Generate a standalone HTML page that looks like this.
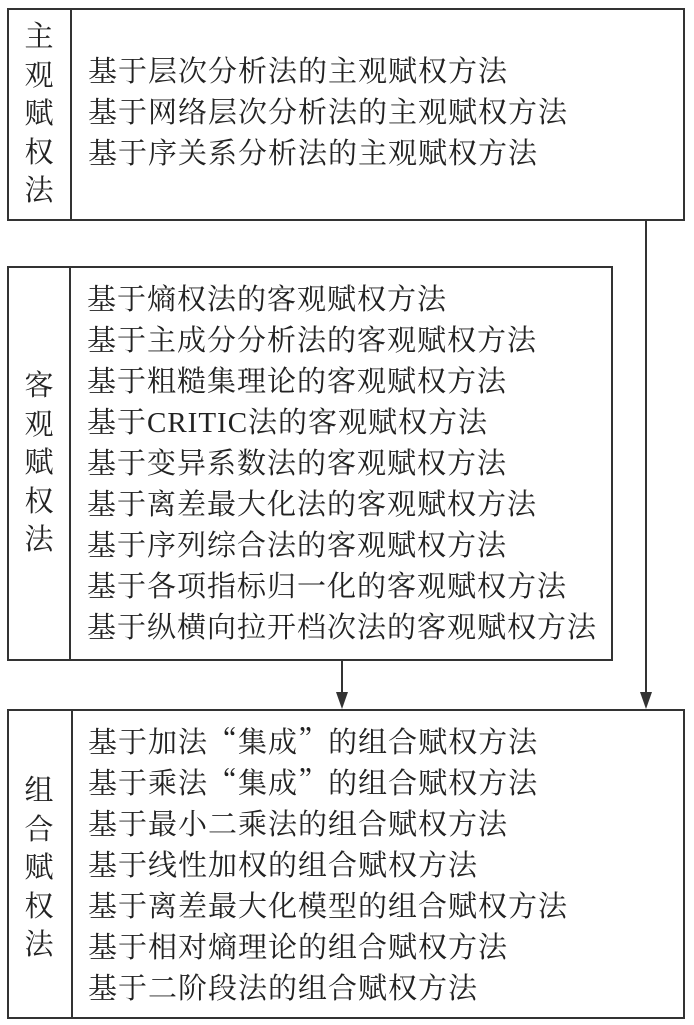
<!DOCTYPE html>
<html><head><meta charset="utf-8"><style>
body{margin:0;width:694px;height:1025px;background:#fff;position:relative;overflow:hidden;font-family:"Liberation Serif","Noto Serif CJK SC",serif;color:#222}
.b{position:absolute;border:2px solid #333;box-sizing:border-box}
.d{position:absolute;width:2px;background:#333}
.t{position:absolute;font-size:29px;line-height:41px;white-space:nowrap;letter-spacing:1px}
.t div{height:41px;overflow:visible}
.l{position:absolute;font-size:29px;line-height:38.5px;width:40px;text-align:center}
.q{font-family:"Noto Serif CJK SC",serif;line-height:1}
</style></head><body>
<div class="b" style="left:7px;top:8px;width:678px;height:213px"></div>
<div class="d" style="left:70px;top:8px;height:213px"></div>
<div class="l" style="left:19px;top:18px">主<br>观<br>赋<br>权<br>法</div>
<div class="t" style="left:88px;top:52px">基于层次分析法的主观赋权方法<br>基于网络层次分析法的主观赋权方法<br>基于序关系分析法的主观赋权方法</div>

<div class="b" style="left:7px;top:266px;width:606px;height:395px"></div>
<div class="d" style="left:69px;top:266px;height:395px"></div>
<div class="l" style="left:19px;top:367px">客<br>观<br>赋<br>权<br>法</div>
<div class="t" style="left:87px;top:280px">基于熵权法的客观赋权方法<br>基于主成分分析法的客观赋权方法<br>基于粗糙集理论的客观赋权方法<br>基于CRITIC法的客观赋权方法<br>基于变异系数法的客观赋权方法<br>基于离差最大化法的客观赋权方法<br>基于序列综合法的客观赋权方法<br>基于各项指标归一化的客观赋权方法<br>基于纵横向拉开档次法的客观赋权方法</div>

<div class="b" style="left:7px;top:709px;width:678px;height:310px"></div>
<div class="d" style="left:71px;top:709px;height:310px"></div>
<div class="l" style="left:19px;top:772px">组<br>合<br>赋<br>权<br>法</div>
<div class="t" style="left:88px;top:723px">
<div>基于加法<span class="q">“</span>集成<span class="q">”</span>的组合赋权方法</div>
<div>基于乘法<span class="q">“</span>集成<span class="q">”</span>的组合赋权方法</div>
<div>基于最小二乘法的组合赋权方法</div>
<div>基于线性加权的组合赋权方法</div>
<div>基于离差最大化模型的组合赋权方法</div>
<div>基于相对熵理论的组合赋权方法</div>
<div>基于二阶段法的组合赋权方法</div>
</div>

<svg style="position:absolute;left:0;top:0" width="694" height="1025">
<line x1="646" y1="220" x2="646" y2="700" stroke="#333" stroke-width="2"/>
<polygon points="640,692 652,692 646,709" fill="#333"/>
<line x1="342" y1="660" x2="342" y2="700" stroke="#333" stroke-width="2"/>
<polygon points="336,692 348,692 342,709" fill="#333"/>
</svg>
</body></html>
